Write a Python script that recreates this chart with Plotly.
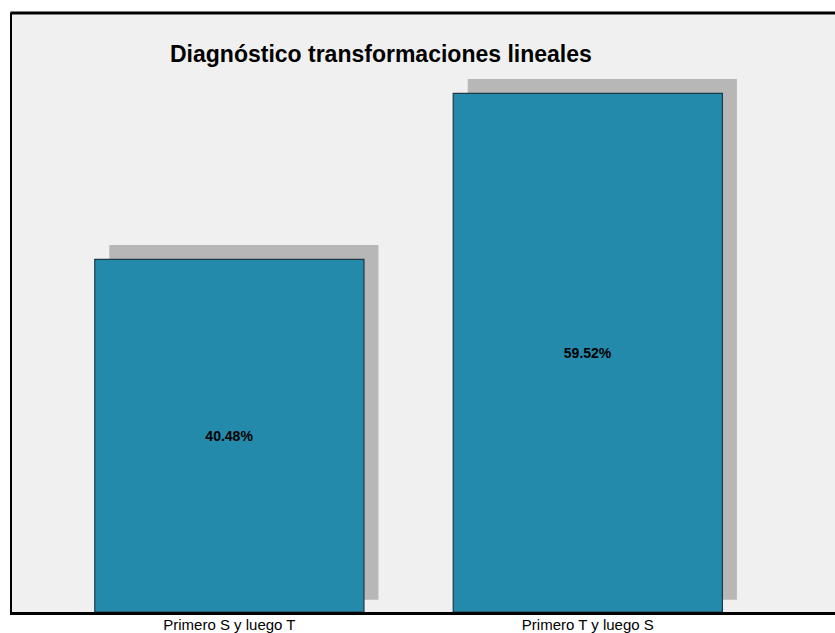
import plotly.graph_objects as go

# Data
categories = ["Primero S y luego T", "Primero T y luego S"]
percentages = [40.48, 59.52]
labels = ["40.48%", "59.52%"]

title = "Diagnóstico transformaciones lineales"

# Figure geometry (pixels)
W, H = 835, 633
M_L, M_R, M_T, M_B = 12, 0, 13, 17
plot_w = W - M_L - M_R
plot_h = H - M_T - M_B

PX_PER_Y = 8.77
Y_MAX = plot_h / PX_PER_Y
X_MIN = -0.6064
PX_PER_X = 358.45
X_MAX = X_MIN + plot_w / PX_PER_X

# drop-shadow offset behind each bar
SH_DX = 14.5 / PX_PER_X
SH_UP = 14.5 / PX_PER_Y
SH_BASE = 12.3 / PX_PER_Y

xpos = list(range(len(categories)))
BAR_W = 0.751

fig = go.Figure()

fig.add_trace(go.Bar(
    x=[x + SH_DX for x in xpos],
    y=[v + SH_UP - SH_BASE for v in percentages],
    base=[SH_BASE] * len(percentages),
    width=BAR_W,
    marker=dict(color="#B7B7B7", line=dict(width=0)),
    hoverinfo="skip",
    showlegend=False,
))

fig.add_trace(go.Bar(
    x=xpos,
    y=percentages,
    width=BAR_W,
    text=labels,
    textposition="inside",
    insidetextanchor="middle",
    textangle=0,
    textfont=dict(family="Liberation Sans, Arial", size=14, color="#000000", weight="bold"),
    marker=dict(color="#248AAB", line=dict(color="#1E3A46", width=1.2)),
    showlegend=False,
))

fig.update_layout(
    width=W,
    height=H,
    margin=dict(l=M_L, r=M_R, t=M_T, b=M_B, pad=0),
    paper_bgcolor="#FFFFFF",
    plot_bgcolor="#F0F0F0",
    barmode="overlay",
    font=dict(family="Liberation Sans, Arial", color="#000000"),
    xaxis=dict(
        range=[X_MIN, X_MAX],
        tickvals=xpos,
        ticktext=categories,
        tickfont=dict(size=15, color="#000000"),
        ticklabelstandoff=-3,
        showgrid=False,
        zeroline=False,
        showline=True,
        linecolor="#000000",
        linewidth=3,
        ticks="",
        ticklen=0,
    ),
    yaxis=dict(
        range=[0, Y_MAX],
        showgrid=False,
        zeroline=False,
        showticklabels=False,
        showline=True,
        linecolor="#000000",
        linewidth=2,
        ticks="",
    ),
    shapes=[
        dict(type="line", xref="paper", yref="paper", x0=-0.002, x1=1.0, y0=1.0, y1=1.0,
             line=dict(color="#000000", width=3)),
    ],
    annotations=[
        dict(
            text="<b>" + title + "</b>",
            xref="paper", yref="paper",
            x=(168 - M_L) / plot_w, y=(H - M_B - 54) / plot_h,
            xanchor="left", yanchor="middle",
            showarrow=False,
            font=dict(family="Liberation Sans, Arial", size=23, color="#000000"),
        )
    ],
)

fig.write_html("out.html")
